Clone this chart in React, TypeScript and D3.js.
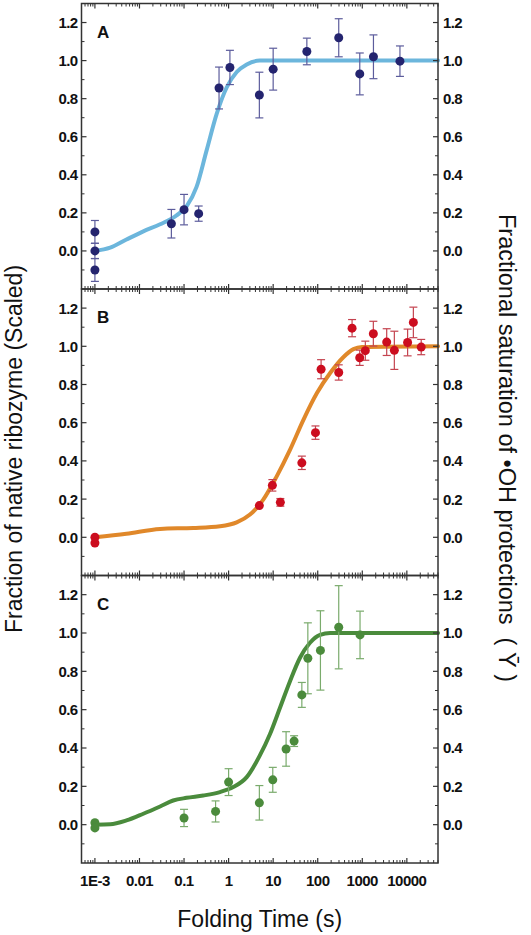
import React from "react";
import * as d3 from "d3";

// ---------- data ----------
const panelLabels = ["A", "B", "C"];

// Panel A (points)
const aTime = [0.001, 0.001, 0.001, 0.052, 0.1, 0.213, 0.61, 1.07, 4.9, 10, 57, 296, 878, 1780, 7000];
const aValue = [0.1, 0.0, -0.1, 0.143, 0.217, 0.196, 0.856, 0.964, 0.819, 0.955, 1.048, 1.12, 0.93, 1.02, 0.997];
const aError = [0.06, 0.04, 0.06, 0.075, 0.08, 0.04, 0.11, 0.09, 0.12, 0.11, 0.07, 0.1, 0.11, 0.115, 0.08];
// Panel A (fit curve)
const aFitTime = [0.001, 0.0022, 0.0051, 0.0122, 0.029, 0.068, 0.114, 0.19, 0.32, 0.54, 0.91, 1.52, 2.55, 5.0, 50000];
const aFitValue = [0, 0.017, 0.06, 0.103, 0.14, 0.187, 0.234, 0.335, 0.527, 0.72, 0.86, 0.94, 0.98, 1.0, 1.0];

// Panel B
const bTime = [0.001, 0.001, 4.9, 9.6, 14.5, 44, 89, 119, 296, 590, 876, 1170, 1770, 3530, 5240, 10400, 14000, 21000];
const bValue = [0.0, -0.03, 0.166, 0.272, 0.183, 0.39, 0.548, 0.88, 0.863, 1.095, 0.94, 0.977, 1.066, 1.022, 0.979, 1.02, 1.125, 0.996];
const bError = [0, 0, 0.01, 0.03, 0.02, 0.035, 0.035, 0.05, 0.04, 0.045, 0.04, 0.05, 0.065, 0.07, 0.1, 0.07, 0.08, 0.04];
const bFitTime = [0.001, 0.0051, 0.029, 0.162, 0.64, 1.52, 3.02, 6.0, 12, 24, 48, 96, 190, 380, 635, 980, 50000];
const bFitValue = [0, 0.019, 0.044, 0.049, 0.058, 0.078, 0.119, 0.197, 0.319, 0.459, 0.616, 0.755, 0.86, 0.944, 0.985, 0.996, 1.0];

// Panel C
const cTime = [0.001, 0.001, 0.1, 0.51, 1.0, 4.9, 9.8, 19.5, 29.5, 44, 60, 115, 296, 890];
const cValue = [0.01, -0.017, 0.035, 0.069, 0.222, 0.114, 0.234, 0.395, 0.436, 0.677, 0.868, 0.909, 1.03, 0.99];
const cError = [0, 0, 0.045, 0.055, 0.07, 0.09, 0.065, 0.09, 0.028, 0.065, 0.185, 0.207, 0.217, 0.124];
const cFitTime = [0.001, 0.0022, 0.0051, 0.0122, 0.029, 0.057, 0.114, 0.27, 0.64, 1.27, 2.55, 5.0, 8.5, 14.3, 24, 40, 67, 113, 190, 50000];
const cFitValue = [0, 0.002, 0.022, 0.057, 0.095, 0.126, 0.14, 0.152, 0.17, 0.196, 0.248, 0.36, 0.473, 0.611, 0.75, 0.871, 0.949, 0.99, 1.0, 1.0];

const xTickValues = [1e-3, 1e-2, 1e-1, 1, 10, 100, 1000, 10000];
const xTickLabels = ["1E-3", "0.01", "0.1", "1", "10", "100", "1000", "10000"];
const yTickValues = [0, 0.2, 0.4, 0.6, 0.8, 1.0, 1.2];
const yTickLabels = ["0.0", "0.2", "0.4", "0.6", "0.8", "1.0", "1.2"];
const yMinorValues = [-0.1, 0.1, 0.3, 0.5, 0.7, 0.9, 1.1];

const xTitle = "Folding Time (s)";
const yLeftTitle = "Fraction of native ribozyme (Scaled)";
const yRightTitle = "Fractional saturation of \u2022OH protections";

// ---------- layout / style ----------
const W = 531;
const H = 935;
const LEFT = 81.5;
const RIGHT = 438;
const panelTop = [3.5, 289, 575.5];
const panelBottom = [289, 575.5, 863];
const FONT = "'Liberation Sans', Arial, Helvetica, sans-serif";
const FRAME = "#333";

const panels = [
  { time: aTime, value: aValue, error: aError, fitT: aFitTime, fitV: aFitValue, marker: "#24246f", err: "#5c5c9c", line: "#6cb6dc" },
  { time: bTime, value: bValue, error: bError, fitT: bFitTime, fitV: bFitValue, marker: "#cc0d1f", err: "#c4434f", line: "#e0882a" },
  { time: cTime, value: cValue, error: cError, fitT: cFitTime, fitV: cFitValue, marker: "#4b8b3c", err: "#7aab6c", line: "#4a8b3c" },
];

const x = d3.scaleLog().domain([5e-4, 5e4]).range([LEFT, RIGHT]);

// minor log ticks 5e-4 .. 5e4
const minorX: number[] = [];
for (let e = -4; e <= 4; e++) {
  for (let m = 2; m <= 9; m++) {
    const v = m * Math.pow(10, e);
    if (v >= 5e-4 && v <= 5e4) minorX.push(v);
  }
}

function Panel({ idx }: { idx: number }) {
  const p = panels[idx];
  const top = panelTop[idx];
  const bottom = panelBottom[idx];
  const y = d3.scaleLinear().domain([-0.2, 1.3]).range([bottom, top]);
  const line = d3
    .line<number>()
    .x((_, i) => x(p.fitT[i]))
    .y((v) => y(v))
    .curve(d3.curveMonotoneX);
  const MAJ = 5;
  const MIN = 3;
  return (
    <g>
      {/* fit curve */}
      <path d={line(p.fitV) || ""} fill="none" stroke={p.line} strokeWidth={4} strokeLinecap="round" />
      {/* error bars */}
      {p.time.map((t, i) =>
        p.error[i] > 0.012 ? (
          <g key={"e" + i} stroke={p.err} strokeWidth={1.2}>
            <line x1={x(t)} x2={x(t)} y1={y(p.value[i] - p.error[i])} y2={y(p.value[i] + p.error[i])} />
            <line x1={x(t) - 4} x2={x(t) + 4} y1={y(p.value[i] - p.error[i])} y2={y(p.value[i] - p.error[i])} />
            <line x1={x(t) - 4} x2={x(t) + 4} y1={y(p.value[i] + p.error[i])} y2={y(p.value[i] + p.error[i])} />
          </g>
        ) : null
      )}
      {/* points */}
      {p.time.map((t, i) => (
        <circle key={"p" + i} cx={x(t)} cy={y(p.value[i])} r={4.5} fill={p.marker} />
      ))}
      {/* frame */}
      <rect x={LEFT} y={top} width={RIGHT - LEFT} height={bottom - top} fill="none" stroke={FRAME} strokeWidth={1.5} />
      {/* x ticks top & bottom (inward) */}
      {xTickValues.map((v, i) => (
        <g key={"xt" + i} stroke={FRAME} strokeWidth={1.2}>
          <line x1={x(v)} x2={x(v)} y1={top} y2={top + MAJ} />
          <line x1={x(v)} x2={x(v)} y1={bottom} y2={bottom - MAJ} />
        </g>
      ))}
      {minorX.map((v, i) => (
        <g key={"xm" + i} stroke={FRAME} strokeWidth={1}>
          <line x1={x(v)} x2={x(v)} y1={top} y2={top + MIN} />
          <line x1={x(v)} x2={x(v)} y1={bottom} y2={bottom - MIN} />
        </g>
      ))}
      {/* y ticks left & right (inward) */}
      {yTickValues.map((v, i) => (
        <g key={"yt" + i}>
          <line x1={LEFT} x2={LEFT + MAJ} y1={y(v)} y2={y(v)} stroke={FRAME} strokeWidth={1.2} />
          <line x1={RIGHT} x2={RIGHT - MAJ} y1={y(v)} y2={y(v)} stroke={FRAME} strokeWidth={1.2} />
          <text x={LEFT - 4} y={y(v)} dy="0.36em" textAnchor="end" fontSize={15} fontWeight="bold" fill="#111" fontFamily={FONT} letterSpacing={-0.6}>
            {yTickLabels[i]}
          </text>
          <text x={RIGHT + 5} y={y(v)} dy="0.36em" textAnchor="start" fontSize={15} fontWeight="bold" fill="#111" fontFamily={FONT} letterSpacing={-0.6}>
            {yTickLabels[i]}
          </text>
        </g>
      ))}
      {yMinorValues.map((v, i) => (
        <g key={"ym" + i} stroke={FRAME} strokeWidth={1}>
          <line x1={LEFT} x2={LEFT + MIN} y1={y(v)} y2={y(v)} />
          <line x1={RIGHT} x2={RIGHT - MIN} y1={y(v)} y2={y(v)} />
        </g>
      ))}
      {/* panel letter */}
      <text x={97} y={y(1.12)} fontSize={17} fontWeight="bold" fill="#111" fontFamily={FONT}>
        {panelLabels[idx]}
      </text>
    </g>
  );
}

export default function App() {
  const bottom = panelBottom[2];
  return (
    <svg width={W} height={H} style={{ position: "absolute", left: 0, top: 0, background: "#fff" }}>
      <rect x={0} y={0} width={W} height={H} fill="#fff" />
      {panels.map((_, i) => (
        <Panel key={i} idx={i} />
      ))}
      {/* x tick labels */}
      {xTickValues.map((v, i) => (
        <text key={"xl" + i} x={x(v)} y={bottom + 23} textAnchor="middle" fontSize={15} fontWeight="bold" fill="#111" fontFamily={FONT} letterSpacing={-0.5}>
          {xTickLabels[i]}
        </text>
      ))}
      <text x={(LEFT + RIGHT) / 2} y={927} textAnchor="middle" fontSize={23} fill="#111" fontFamily={FONT}>
        {xTitle}
      </text>
      <text transform={`translate(22,449) rotate(-90)`} textAnchor="middle" fontSize={23} fill="#111" fontFamily={FONT}>
        {yLeftTitle}
      </text>
      <text transform={`translate(499,448) rotate(90)`} textAnchor="middle" fontSize={23.5} fill="#111" fontFamily={FONT} style={{ whiteSpace: "pre" }}>
        {yRightTitle + "  ( \u0232 )"}
      </text>
    </svg>
  );
}
